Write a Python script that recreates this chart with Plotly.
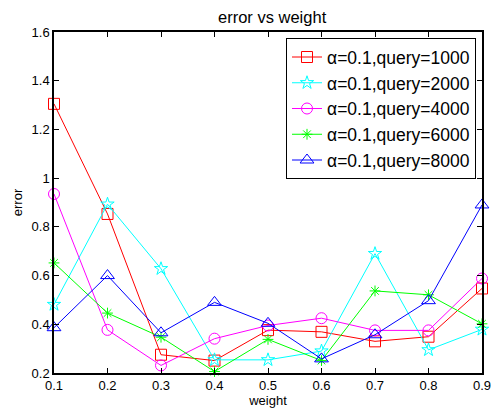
import plotly.graph_objects as go

weights = [0.1, 0.2, 0.3, 0.4, 0.5, 0.6, 0.7, 0.8, 0.9]
err_q1000 = [1.305, 0.853, 0.275, 0.251, 0.376, 0.369, 0.330, 0.349, 0.547]
err_q2000 = [0.481, 0.893, 0.628, 0.254, 0.254, 0.290, 0.690, 0.295, 0.379]
err_q4000 = [0.935, 0.377, 0.231, 0.341, 0.395, 0.425, 0.375, 0.375, 0.588]
err_q6000 = [0.652, 0.446, 0.347, 0.206, 0.338, 0.251, 0.537, 0.521, 0.402]
err_q8000 = [0.386, 0.600, 0.365, 0.490, 0.404, 0.258, 0.357, 0.497, 0.890]
series_names = ["α=0.1,query=1000", "α=0.1,query=2000", "α=0.1,query=4000",
                "α=0.1,query=6000", "α=0.1,query=8000"]
series_vals = [err_q1000, err_q2000, err_q4000, err_q6000, err_q8000]
colors = ["#FF0000", "#00FFFF", "#FF00FF", "#00FF00", "#0000FF"]
symbols = ["square-open", "star-open", "circle-open", "asterisk-open", "triangle-up-open"]
sizes = [11, 10, 11, 9, 12]
x_ticks = [0.1, 0.2, 0.3, 0.4, 0.5, 0.6, 0.7, 0.8, 0.9]
y_ticks = [0.2, 0.4, 0.6, 0.8, 1.0, 1.2, 1.4, 1.6]
y_tick_text = ["0.2", "0.4", "0.6", "0.8", "1", "1.2", "1.4", "1.6"]

fig = go.Figure()
for name, vals, c, s, sz in zip(series_names, series_vals, colors, symbols, sizes):
    fig.add_trace(go.Scatter(
        x=weights, y=vals, name=name, mode="lines+markers",
        line=dict(color=c, width=1),
        marker=dict(symbol=s, size=sz, color=c, line=dict(color=c, width=1)),
        cliponaxis=False,
    ))

font_family = "Liberation Sans, Arial, sans-serif"
fig.update_layout(
    width=503, height=416,
    margin=dict(l=54, r=15, t=32, b=42),
    paper_bgcolor="white", plot_bgcolor="white",
    font=dict(family=font_family, color="black", size=12),
    title=dict(text="error vs weight", x=0.541, xanchor="center", y=0.959, yanchor="middle",
               font=dict(size=16.5, color="black")),
    showlegend=True,
    legend=dict(x=0.986, y=0.982, xanchor="right", yanchor="top",
                bgcolor="white", bordercolor="black", borderwidth=1,
                font=dict(size=17.5, color="black"), itemwidth=30,
                tracegroupgap=0),
    xaxis=dict(range=[0.1, 0.9], tickvals=x_ticks, ticktext=[str(v) for v in x_ticks],
               ticks="inside", ticklen=5, tickcolor="black", mirror="allticks",
               showline=True, linecolor="black", linewidth=1.5, showgrid=False,
               zeroline=False, tickfont=dict(size=13),
               title=dict(text="weight", standoff=2, font=dict(size=13))),
    yaxis=dict(range=[0.2, 1.6], tickvals=y_ticks, ticktext=y_tick_text,
               ticks="inside", ticklen=5, tickcolor="black", mirror="allticks",
               showline=True, linecolor="black", linewidth=1.5, showgrid=False,
               zeroline=False, tickfont=dict(size=13),
               title=dict(text="error", standoff=6, font=dict(size=13))),
)

fig.write_html("out.html")
